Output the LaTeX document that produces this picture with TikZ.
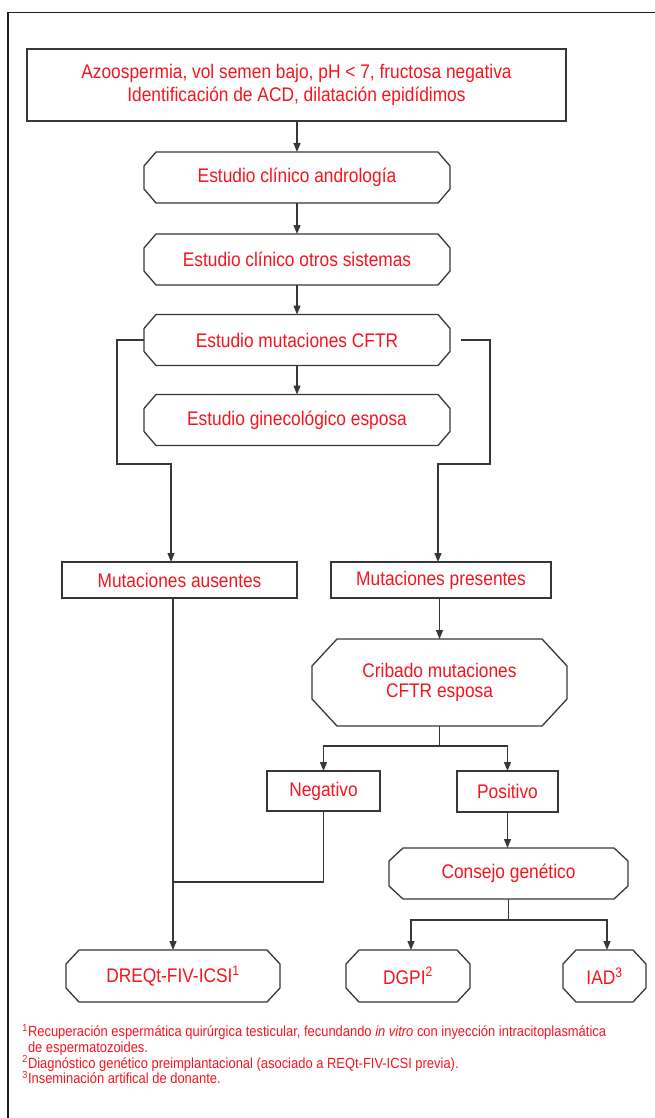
\documentclass[tikz,border=0pt]{standalone}
\usepackage{fontspec}
\setmainfont{Liberation Sans}[FakeStretch=0.88]
\usetikzlibrary{arrows.meta,calc}
\definecolor{txtred}{RGB}{245,20,30}
\definecolor{ln}{RGB}{55,55,55}
\definecolor{framecol}{RGB}{30,30,30}
\tikzset{
 boxline/.style={draw=ln,line width=1.3pt,line join=miter},
 arr/.style={draw=ln,line width=1.2pt,-{Triangle[length=9pt,width=7pt]}},
 conn/.style={draw=ln,line width=1.2pt},
 lbl/.style={text=txtred,inner sep=0pt,outer sep=0pt,align=center,font=\fontsize{19.7}{23}\selectfont},
 sqbox/.style={lbl,boxline,rectangle},
 octbox/.style={lbl,rectangle},
 fn/.style={text=txtred,inner sep=0pt,outer sep=0pt,anchor=base west,align=left,font=\fontsize{14.7}{15.5}\selectfont}
}
\newcommand\octshape[3]{%
 \draw[boxline] ([xshift=#2pt]#1.north west) -- ([xshift=-#2pt]#1.north east) -- ([yshift=-#3pt]#1.north east) -- ([yshift=#3pt]#1.south east) -- ([xshift=-#2pt]#1.south east) -- ([xshift=#2pt]#1.south west) -- ([yshift=#3pt]#1.south west) -- ([yshift=-#3pt]#1.north west) -- cycle;}
\begin{document}
\begin{tikzpicture}[x=1pt,y=-1pt]
\useasboundingbox (0,0) rectangle (655,1118);
% frame
\draw[line width=1.6pt,draw=framecol] (8,1118) -- (8,12.5) -- (655,12.5);

% nodes
\node[sqbox,minimum width=539pt,minimum height=72pt] (top) at (296.5,85)
 {Azoospermia, vol semen bajo, pH < 7, fructosa negativa\\Identificación de ACD, dilatación epidídimos};

\node[octbox,minimum width=306pt,minimum height=51pt] (o1) at (297,177.5) {Estudio clínico andrología};
\octshape{o1}{12}{14}
\node[octbox,minimum width=306pt,minimum height=51pt] (o2) at (297,259.5) {Estudio clínico otros sistemas};
\octshape{o2}{12}{14}
\node[octbox,minimum width=306pt,minimum height=51pt] (o3) at (297,340) {Estudio mutaciones CFTR};
\octshape{o3}{12}{14}
\node[octbox,minimum width=306pt,minimum height=51pt] (o4) at (297,420) {Estudio ginecológico esposa};
\octshape{o4}{12}{14}

\node[sqbox,minimum width=235pt,minimum height=36pt] (aus) at (179.5,580) {Mutaciones ausentes};
\node[sqbox,minimum width=220pt,minimum height=36pt] (pres) at (441,580) {Mutaciones presentes};

\node[octbox,minimum width=255pt,minimum height=87pt,font=\fontsize{19.7}{20}\selectfont] (crib) at (439.5,682.5) {Cribado mutaciones\\CFTR esposa};
\octshape{crib}{25}{27}

\node[sqbox,minimum width=113pt,minimum height=40pt] (neg) at (323.5,791) {Negativo};
\node[sqbox,minimum width=101pt,minimum height=41pt] (pos) at (507.5,791.5) {Positivo};

\node[octbox,minimum width=239pt,minimum height=51pt] (cons) at (508.5,873.5) {Consejo genético};
\octshape{cons}{14}{13}

\node[octbox,minimum width=214pt,minimum height=52pt] (dreqt) at (173,976) {DREQt-FIV-ICSI\textsuperscript{1}};
\octshape{dreqt}{13}{14}
\node[octbox,minimum width=124pt,minimum height=52pt] (dgpi) at (408,976) {DGPI\textsuperscript{2}};
\octshape{dgpi}{13}{14}
\node[octbox,minimum width=83pt,minimum height=52pt] (iad) at (604.5,976) {IAD\textsuperscript{3}};
\octshape{iad}{13}{14}

% connectors
\draw[arr] (top.south -| o1.north) -- (o1.north);
\draw[arr] (o1.south) -- (o2.north);
\draw[arr] (o2.south) -- (o3.north);
\draw[arr] (o3.south) -- (o4.north);

\coordinate (lj) at (117,464);
\draw[arr] (o3.west) -| (lj) -| ([xshift=-8.5pt]aus.north);
\coordinate (rs) at ($(o3.east)+(11,0)$);
\coordinate (rj) at (490,464);
\draw[arr] (rs) -| (rj) -| ([xshift=-3pt]pres.north);

\draw[arr] (aus.south -| dreqt.north) -- (dreqt.north);
\coordinate (nj) at (173,882);
\draw[conn] (neg.south) |- (nj);

\draw[arr] (pres.south -| crib.north) -- (crib.north);
\draw[arr] (crib.south) -- ++(0,20) -| (neg.north);
\draw[arr] (crib.south) -- ++(0,20) -| (pos.north);

\draw[arr] (pos.south) -- (pos.south |- cons.north);
\draw[arr] (cons.south) -- ++(0,21) -| ([xshift=3pt]dgpi.north);
\draw[arr] (cons.south) -- ++(0,21) -| ([xshift=2.5pt]iad.north);

% footnotes
\node[fn] (fn1) at (28,1052) {\llap{\textsuperscript{1}}Recuperación espermática quirúrgica testicular, fecundando \textit{in vitro} con inyección intracitoplasmática\\de espermatozoides.};
\node[fn] (fn2) at (28,1068) {\llap{\textsuperscript{2}}Diagnóstico genético preimplantacional (asociado a REQt-FIV-ICSI previa).};
\node[fn] (fn3) at (28,1083.5) {\llap{\textsuperscript{3}}Inseminación artifical de donante.};
\end{tikzpicture}
\end{document}
